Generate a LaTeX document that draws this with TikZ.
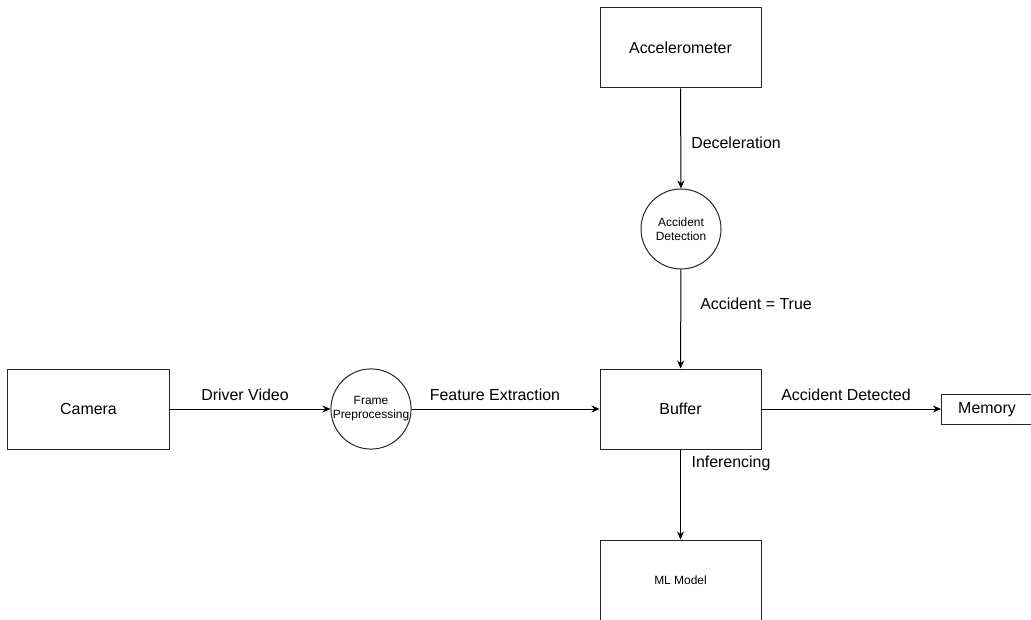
\documentclass[tikz,border=0pt]{standalone}
\usepackage{fontspec}
\setmainfont{Liberation Sans}
\usetikzlibrary{arrows.meta}
\begin{document}
\begin{tikzpicture}[x=1bp,y=-1bp,
  box/.style={draw=black!85,line width=1bp,minimum width=161bp,minimum height=80bp,inner sep=0pt,font=\fontsize{16}{19}\selectfont},
  smallbox/.style={box,font=\fontsize{12}{14}\selectfont},
  proc/.style={draw=black!85,line width=1bp,circle,minimum size=80bp,inner sep=0pt,align=center,font=\fontsize{12}{14}\selectfont},
  flow/.style={draw=black,line width=1bp,-{Stealth[length=8bp,width=7bp]}},
  lbl/.style={font=\fontsize{16}{19}\selectfont,inner sep=0pt}]
\useasboundingbox (0,0) rectangle (1031,620);
% process boxes
\node[box] (acc) at (680.5,48) {Accelerometer};
\node[box] (buf) at (680.5,409) {Buffer};
\node[box] (cam) at (88.5,409) {Camera};
\node[smallbox] (ml) at (680.5,580) {ML Model};
% processing stages
\node[proc] (det) at (681,229) {Accident\\Detection};
\node[proc] (pre) at (371,409) {Frame\\Preprocessing};
% data store
\coordinate (memin) at (941,409);
\draw[draw=black!85,line width=1bp] (1031,394) -- (941,394) -- (941,424) -- (1031,424);
\node[lbl] (mem) at (987,410) {Memory};
% flows
\draw[flow] (acc) -- (det);
\draw[flow] (det) -- (buf);
\draw[flow] (cam) -- (pre);
\draw[flow] (pre) -- (buf);
\draw[flow] (buf) -- (memin);
\draw[flow] (buf) -- (ml);
% flow labels
\node[lbl] at (736,143) {Deceleration};
\node[lbl] at (756,304) {Accident = True};
\node[lbl] at (245,395) {Driver Video};
\node[lbl] at (495,395) {Feature Extraction};
\node[lbl] at (846,395) {Accident Detected};
\node[lbl] at (731,463) {Inferencing};
\end{tikzpicture}
\end{document}
